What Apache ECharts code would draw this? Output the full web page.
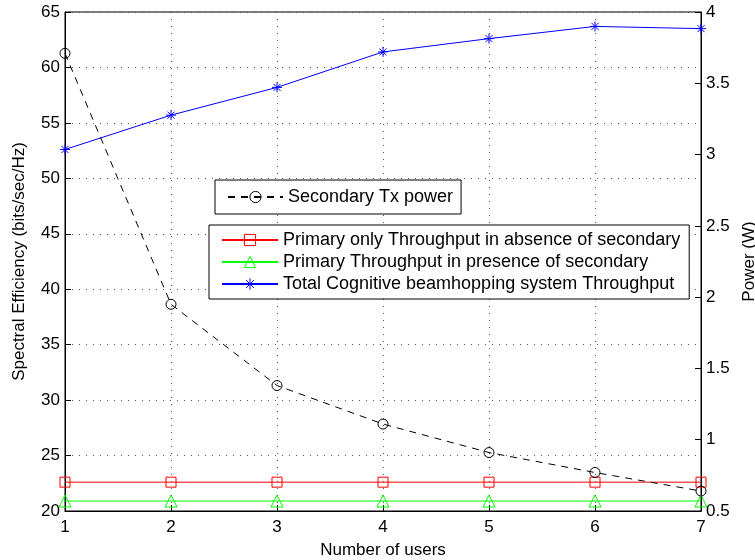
<!DOCTYPE html>
<html>
<head>
<meta charset="utf-8">
<script src="https://cdn.jsdelivr.net/npm/echarts@6/dist/echarts.min.js"></script>
<style>
  html, body { margin: 0; padding: 0; background: #fff; }
  #main { width: 755px; height: 560px; }
</style>
</head>
<body>
<div id="main"></div>
<script>
// data
var users = [1, 2, 3, 4, 5, 6, 7];
var primaryOnly = [22.6, 22.6, 22.6, 22.6, 22.6, 22.6, 22.6];
var primaryWithSecondary = [20.9, 20.9, 20.9, 20.9, 20.9, 20.9, 20.9];
var totalCognitive = [52.6, 55.7, 58.2, 61.4, 62.6, 63.7, 63.5];
var secondaryPower = [3.71, 1.95, 1.38, 1.11, 0.91, 0.77, 0.64];

var FONT = 'Liberation Sans, Arial, Helvetica, sans-serif';
var STAR = 'path://M5 0 L5 10 M0 5 L10 5 M1.5 1.5 L8.5 8.5 M1.5 8.5 L8.5 1.5';

function pairs(vals) {
	return users.map(function (u, i) { return [u, vals[i]]; });
}

var myChart = echarts.init(document.getElementById('main'));

myChart.setOption({
	animation: false,
	backgroundColor: '#fff',
	textStyle: { fontFamily: FONT, color: '#000' },
	grid: {
		left: 65, right: 54, top: 12, bottom: 49,
		outerBoundsMode: 'none',
		containLabel: false,
		show: true, borderColor: '#000', borderWidth: 1, backgroundColor: 'transparent'
	},
	legend: [
		{
			left: 215, top: 180,
			orient: 'vertical',
			data: ['Secondary Tx power'],
			backgroundColor: '#fff',
			borderColor: '#000', borderWidth: 1, borderRadius: 0,
			padding: [8, 8, 8, 12],
			itemWidth: 55, itemHeight: 14,
			itemStyle: { borderWidth: 1 },
			textStyle: { fontSize: 18, fontFamily: FONT, color: '#000' }
		},
		{
			left: 209, top: 225,
			orient: 'vertical',
			data: [
				'Primary only Throughput in absence of secondary',
				'Primary Throughput in presence of secondary',
				'Total Cognitive beamhopping system Throughput'
			],
			backgroundColor: '#fff',
			borderColor: '#000', borderWidth: 1, borderRadius: 0,
			padding: [6, 9, 6, 12],
			itemGap: 4,
			itemWidth: 56, itemHeight: 14,
			itemStyle: { borderWidth: 1 },
			textStyle: { fontSize: 18, fontFamily: FONT, color: '#000' }
		}
	],
	xAxis: {
		type: 'value',
		min: 1, max: 7, interval: 1,
		name: 'Number of users',
		nameLocation: 'middle',
		nameGap: 31,
		nameTextStyle: { fontSize: 17, color: '#000' },
		axisLine: { lineStyle: { color: '#000' } },
		axisTick: { inside: true, length: 6, lineStyle: { color: '#000' } },
		axisLabel: { fontSize: 17, color: '#000', margin: 8 },
		splitLine: { show: true, lineStyle: { color: '#555', type: [1, 6] } }
	},
	yAxis: [
		{
			type: 'value',
			min: 20, max: 65, interval: 5,
			name: 'Spectral Efficiency (bits/sec/Hz)',
			nameLocation: 'middle',
			nameGap: 37,
			nameTextStyle: { fontSize: 17, color: '#000' },
			axisLine: { show: true, lineStyle: { color: '#000' } },
			axisTick: { show: true, inside: true, length: 6, lineStyle: { color: '#000' } },
			axisLabel: { fontSize: 17, color: '#000', margin: 5 },
			splitLine: { show: true, lineStyle: { color: '#555', type: [1, 6] } }
		},
		{
			type: 'value',
			min: 0.5, max: 4, interval: 0.5,
			position: 'right',
			name: 'Power (W)',
			nameLocation: 'middle',
			nameGap: 40,
			nameRotate: 90,
			nameTextStyle: { fontSize: 17, color: '#000' },
			axisLine: { show: true, lineStyle: { color: '#000' } },
			axisTick: { show: true, inside: true, length: 6, lineStyle: { color: '#000' } },
			axisLabel: { fontSize: 17, color: '#000', margin: 5 },
			splitLine: { show: false }
		}
	],
	series: [
		{
			name: 'Primary only Throughput in absence of secondary',
			type: 'line',
			yAxisIndex: 0,
			data: pairs(primaryOnly),
			symbol: 'rect', symbolSize: 10,
			lineStyle: { color: '#ff0000', width: 1 },
			itemStyle: { color: 'none', borderColor: '#ff0000', borderWidth: 1 }
		},
		{
			name: 'Primary Throughput in presence of secondary',
			type: 'line',
			yAxisIndex: 0,
			data: pairs(primaryWithSecondary),
			symbol: 'triangle', symbolSize: 12,
			lineStyle: { color: '#00ff00', width: 1 },
			itemStyle: { color: 'none', borderColor: '#00ff00', borderWidth: 1 }
		},
		{
			name: 'Total Cognitive beamhopping system Throughput',
			type: 'line',
			yAxisIndex: 0,
			data: pairs(totalCognitive),
			symbol: STAR, symbolSize: 10,
			lineStyle: { color: '#0000ff', width: 1 },
			itemStyle: { color: 'none', borderColor: '#0000ff', borderWidth: 1 }
		},
		{
			name: 'Secondary Tx power',
			type: 'line',
			yAxisIndex: 1,
			data: pairs(secondaryPower),
			symbol: 'circle', symbolSize: 10,
			lineStyle: { color: '#000', width: 1, type: [7, 6] },
			itemStyle: { color: 'none', borderColor: '#000', borderWidth: 1 }
		}
	]
});
</script>
</body>
</html>
